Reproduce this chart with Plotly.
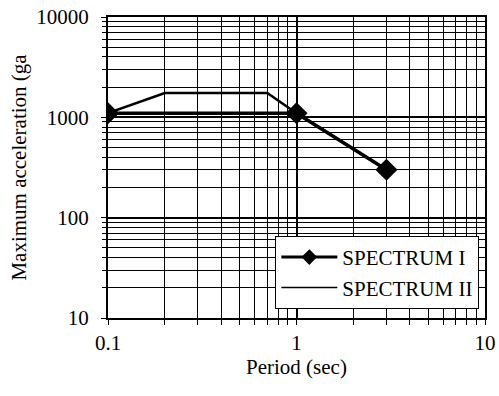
import plotly.graph_objects as go

spectrum1_period = [0.1, 1.0, 3.0]
spectrum1_accel = [1100, 1100, 300]
spectrum2_period = [0.1, 0.2, 0.7, 1.0, 3.0]
spectrum2_accel = [1100, 1750, 1750, 1100, 300]

x_tickvals = [0.1, 1, 10]
x_ticktext = ["0.1", "1", "10"]
y_tickvals = [10, 100, 1000, 10000]
y_ticktext = ["10", "100", "1000", "10000"]

FONT = "Liberation Serif"
FS = 21

fig = go.Figure()
fig.add_trace(go.Scatter(
    x=spectrum2_period, y=spectrum2_accel, mode="lines", name="SPECTRUM II",
    line=dict(color="black", width=2.5), showlegend=False, legendgroup="s2",
))
fig.add_trace(go.Scatter(
    x=spectrum1_period, y=spectrum1_accel, mode="lines+markers", name="SPECTRUM I",
    line=dict(color="black", width=3.5),
    marker=dict(symbol="diamond", size=17, color="black"),
    showlegend=False, legendgroup="s1",
))
# legend entries (smaller symbols, as in the original legend)
fig.add_trace(go.Scatter(
    x=[None], y=[None], mode="lines+markers", name="SPECTRUM I", legendgroup="s1",
    line=dict(color="black", width=3), marker=dict(symbol="diamond", size=12, color="black"),
))
fig.add_trace(go.Scatter(
    x=[None], y=[None], mode="lines", name="SPECTRUM II", legendgroup="s2",
    line=dict(color="black", width=1.5),
))

fig.update_layout(
    width=499, height=396,
    margin=dict(l=108, r=14, t=17, b=78, autoexpand=False),
    paper_bgcolor="white", plot_bgcolor="white",
    font=dict(family=FONT, size=FS, color="black"),
    showlegend=True,
    legend=dict(
        x=0.985, y=0.03, xanchor="right", yanchor="bottom",
        bgcolor="white", bordercolor="black", borderwidth=1,
        font=dict(family=FONT, size=FS, color="black"),
        traceorder="normal",
        itemwidth=56,
        tracegroupgap=0,
    ),
)

fig.update_xaxes(
    type="log", range=[-1, 1], automargin=False,
    tickvals=x_tickvals, ticktext=x_ticktext,
    showgrid=True, gridcolor="black", gridwidth=1.5,
    showline=True, linecolor="black", linewidth=2, mirror=True,
    ticks="outside", ticklen=5, tickcolor="black",
    ticklabelstandoff=0,
    minor=dict(dtick="D1", showgrid=True, gridcolor="black", gridwidth=0.8,
               ticks="outside", ticklen=5, tickcolor="black"),
    title=dict(text="Period (sec)", font=dict(family=FONT, size=FS), standoff=2),
    tickfont=dict(family=FONT, size=FS),
    zeroline=False,
)
fig.update_yaxes(
    type="log", range=[1, 4], automargin=False,
    tickvals=y_tickvals, ticktext=y_ticktext,
    showgrid=True, gridcolor="black", gridwidth=2,
    showline=True, linecolor="black", linewidth=2, mirror=True,
    ticks="outside", ticklen=5, tickcolor="black",
    ticklabelstandoff=8,
    minor=dict(dtick="D1", showgrid=True, gridcolor="black", gridwidth=0.8,
               ticks="outside", ticklen=4, tickcolor="black"),
    title=dict(text="Maximum acceleration (ga", font=dict(family=FONT, size=FS), standoff=4),
    tickfont=dict(family=FONT, size=FS),
    zeroline=False,
)

fig.write_html("out.html")
